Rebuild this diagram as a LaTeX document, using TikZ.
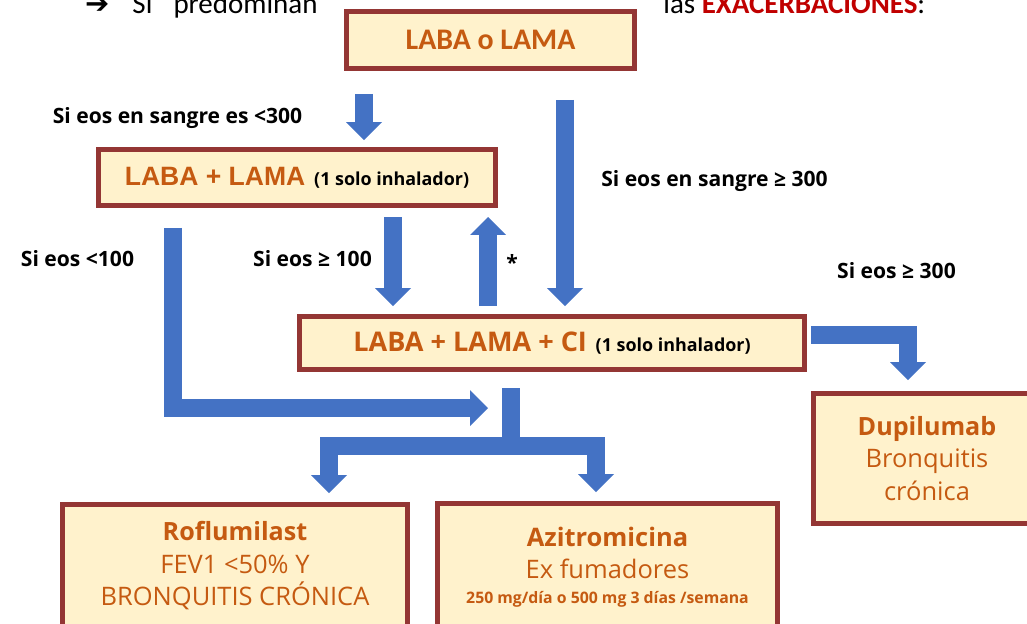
\documentclass[tikz,border=0pt]{standalone}
\usepackage{fontspec}
\setmainfont{Open Sans}
\newfontfamily\carl{Carlito}
\newfontfamily\arialf{Liberation Sans}
\newfontfamily\dejavu{DejaVu Sans}
\usepackage{tikz}
\usetikzlibrary{arrows.meta}
\definecolor{azul}{HTML}{4472C4}
\definecolor{granate}{HTML}{943634}
\definecolor{crema}{HTML}{FFF2CC}
\definecolor{naranja}{HTML}{C55A11}
\definecolor{rojo}{HTML}{C00000}
\newcommand{\chico}{\fontsize{9}{11}\selectfont\bfseries}
\newcommand{\inhal}{\fontsize{10.2}{12}\selectfont\bfseries\color{black}}
\tikzstyle{caja} = [rectangle, draw=granate, fill=crema, line width=0.1cm,
                 inner sep=0pt, align=center, text=naranja]
\tikzstyle{flecha} = [draw=azul, line width=0.36cm, line join=miter,
                 -{Triangle[width=0.72cm, length=0.36cm, line width=0pt]}]
\tikzset{
	etiqueta/.style={font=\fontsize{12}{14}\selectfont\bfseries, inner sep=0pt, anchor=base},
	titulo/.style={font=\fontsize{14.5}{18.5}\selectfont},
}

\begin{document}
\begin{tikzpicture}[x=0.02cm, y=-0.02cm]

\useasboundingbox (0,0) rectangle (1027,623);
\clip (0,0) rectangle (1027,623);

% text of the slide, cut at the top
\node [anchor=base west, inner sep=0pt, font=\carl\fontsize{16.5}{20}\selectfont] (intro) at (85,13)
	{{\dejavu ➔}\hspace{13pt}Si\hspace{12pt}predominan};
\node [anchor=base west, inner sep=0pt, font=\carl\fontsize{16.5}{20}\selectfont] (exac) at (663,13)
	{las {\bfseries\color{rojo}EXACERBACIONES}:};

\node [caja, minimum width=5.76cm, minimum height=1.14cm] at (490.5,40) (laba)
	{\carl\bfseries\fontsize{17}{20}\selectfont LABA o LAMA};
\node [caja, minimum width=7.94cm, minimum height=1.12cm] at (297,177.5) (lablam)
	{{\arialf\bfseries\fontsize{15.1}{17}\selectfont LABA + LAMA}\hspace{5pt}{\inhal(1 solo inhalador)}};
\node [caja, minimum width=10.1cm, minimum height=1.06cm] at (552,343) (triple)
	{{\bfseries\fontsize{15.4}{17}\selectfont LABA + LAMA + CI}\hspace{5pt}{\inhal(1 solo inhalador)}};
\node [caja, titulo, minimum width=6.9cm, minimum height=2.46cm] at (235,566) (roflu)
	{{\fontsize{14.3}{18.5}\selectfont\bfseries Roflumilast}\\ FEV1 <50\% Y\\ BRONQUITIS CRÓNICA};
\node [caja, titulo, minimum width=6.8cm, minimum height=2.54cm] at (607.5,567) (azi)
	{\textbf{Azitromicina}\\ Ex fumadores\\[-4.5pt] {\chico 250 mg/día o 500 mg 3 días /semana}};
\node [caja, titulo, minimum width=4.54cm, minimum height=2.6cm] at (927,458.5) (dupi)
	{{\fontsize{14.3}{18.5}\selectfont\bfseries Dupilumab}\\ Bronquitis\\ crónica};

% columns and rows of the arrows
\coordinate (c1) at (364,0);
\coordinate (c2) at (565,0);
\coordinate (c3) at (393,0);
\coordinate (c4) at (488,0);
\coordinate (c5) at (173,0);
\coordinate (c6) at (511,0);
\coordinate (c7) at (329,0);
\coordinate (c8) at (596,0);
\coordinate (c9) at (908,0);
\coordinate (r1) at (0,335);
\coordinate (r3) at (0,446);
\coordinate (punta) at (488,408);

\draw [flecha, shorten <=0.46cm, shorten >=0.14cm] (laba.south -| c1) -- (lablam.north -| c1);
\draw [flecha, shorten <=0.58cm, shorten >=0.16cm] (laba.south -| c2) -- (triple.north -| c2);
\draw [flecha, shorten <=0.18cm, shorten >=0.16cm] (lablam.south -| c3) -- (triple.north -| c3);
\draw [flecha, shorten <=0.16cm, shorten >=0.18cm] (triple.north -| c4) -- (lablam.south -| c4);
\draw [flecha, shorten <=0.08cm, shorten >=0.22cm] (triple.east |- r1) -| (dupi.north -| c9);
\draw [flecha, shorten <=0.4cm] (lablam.south -| c5) |- (punta);
\draw [flecha, shorten <=0.32cm, shorten >=0.18cm] (triple.south -| c6) -- (c6 |- r3) -| (roflu.north -| c7);
\draw [flecha, shorten >=0.18cm] (c6 |- r3) -| (azi.north -| c8);

\node [etiqueta] (l1) at (177.5,123) {Si eos en sangre es <300};
\node [etiqueta] (l2) at (714.5,186) {Si eos en sangre ≥ 300};
\node [etiqueta] (l3) at (77.5,266) {Si eos <100};
\node [etiqueta] (l4) at (312.5,266) {Si eos ≥ 100};
\node [etiqueta] (l5) at (512,270) {*};
\node [etiqueta] (l6) at (896.5,278) {Si eos ≥ 300};

\end{tikzpicture}
\end{document}
